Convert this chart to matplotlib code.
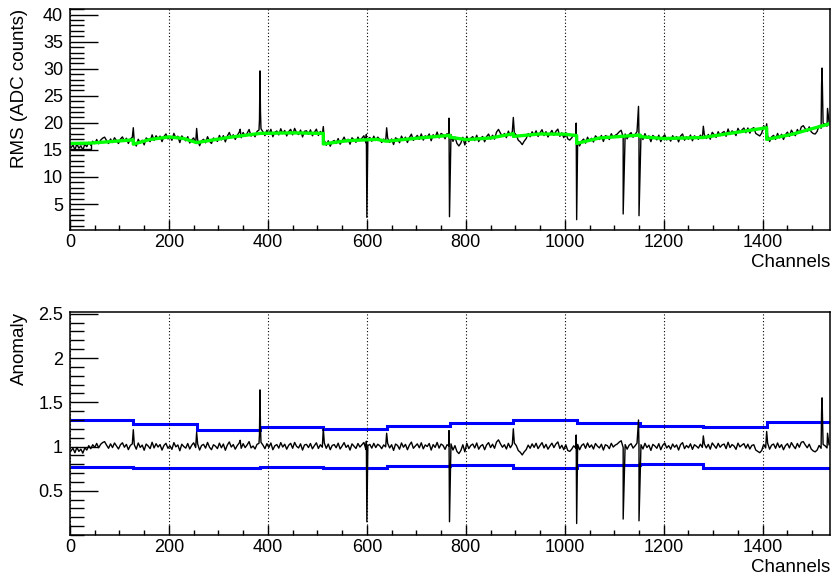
import matplotlib
matplotlib.use('Agg')
import matplotlib.pyplot as plt
from matplotlib.ticker import MultipleLocator, FixedLocator, FuncFormatter
import numpy as np

plt.rcParams['font.family'] = ['Liberation Sans', 'DejaVu Sans']

n_channels = 1536
block_size = 128
step = 4  # anomaly values below are one per 4 channels

# smooth baseline (green), knots per 128-channel block
green_ch = [
    [0, 40, 128],
    [128, 160, 200, 230, 256],
    [256, 320, 384],
    [384, 450, 512],
    [512, 560, 620, 640],
    [640, 700, 768],
    [768, 800, 850, 896],
    [896, 950, 1000, 1024],
    [1024, 1070, 1152],
    [1152, 1200, 1280],
    [1280, 1408],
    [1408, 1460, 1536],
]
green_rms = [
    [16.2, 16.25, 16.85],
    [16.05, 16.9, 17.4, 17.1, 16.35],
    [16.35, 17.3, 18.05],
    [18.05, 18.15, 18.05],
    [16.1, 16.7, 16.95, 16.6],
    [16.6, 17.15, 17.7],
    [17.35, 16.9, 17.2, 18.0],
    [17.5, 17.95, 17.9, 17.65],
    [16.2, 17.2, 17.75],
    [17.45, 17.1, 17.3],
    [17.3, 19.1],
    [16.95, 17.9, 19.85],
]

# anomaly (rms / baseline) minus 1, in thousandths, 32 values per block
anomaly_dev = [
    [-50, -20, -70, -10, -55, -30, -75, -15, -40, 10, -25, 20, -10, 35, -15, 25,
     45, 55, 15, -20, 30, -12, 40, 5, -28, 20, 42, -8, 24, -35, 12, 30],
    [20, -30, 40, -10, 16, -42, 28, 6, -24, 48, -16, 32, -6, 22, -40, 12,
     36, -20, 8, -32, 44, -4, 18, -48, 26, 0, -18, 34, -28, 14, 42, -12],
    [30, -40, 12, 24, -18, 46, -8, -36, 20, 4, -24, 38, -14, 28, -42, 16,
     52, -6, 22, -30, 10, 40, -20, 32, -12, 18, 55, -16, 6, -28, 24, 36],
    [48, 16, -24, 32, -10, 40, -36, 8, 22, -18, 44, -6, 26, -30, 14, 36,
     -20, 46, 2, -16, 30, -40, 18, 24, -12, 34, -26, 10, 42, -22, 20, -8],
    [40, -20, 28, -36, 12, 22, -14, 38, -28, 6, 44, -10, 16, -40, 30, 4,
     -22, 34, -6, 20, 46, -32, 10, 24, -18, 36, -12, 26, 8, -24, 18, -4],
    [36, -16, 20, -44, 28, 12, -30, 40, -8, 24, -36, 16, 50, -20, 6, 30,
     -14, 42, -26, 18, 0, 34, -40, 22, -10, 46, -18, 28, 12, -32, 20, 8],
    [30, -40, 10, -55, -80, -45, 20, -60, 36, -24, 12, 28, -16, 40, -30, 6,
     22, -36, 18, 44, -12, 26, -20, 50, 75, 30, -8, 20, -28, 36, -14, 24],
    [40, 10, -45, -65, -95, -60, -35, 16, -20, 30, -10, 36, -24, 12, 44, -16,
     24, -30, 6, 38, -12, 28, 52, -22, 14, -36, 20, -45, -55, -30, 8, -16],
    [24, -36, 12, 30, -20, 40, -10, 18, -28, 34, 4, -16, 26, -40, 20, 10,
     -24, 36, -6, 16, 28, 50, 65, -12, 22, -30, 14, 32, -18, 8, 38, -22],
    [20, -28, 36, -12, 16, -44, 24, 6, -20, 32, -36, 14, 40, -16, 10, -30,
     28, -8, 18, -40, 22, 44, -24, 12, -14, 30, -32, 20, 4, -18, 26, -10],
    [30, -16, 24, -30, 40, 10, -20, 36, -8, 18, 28, -24, 48, -12, 22, 6,
     -32, 38, -4, 16, 32, -18, 26, -28, 12, 20, -40, -55, -70, -45, 24, -16],
    [36, -30, 16, 28, -20, 40, -12, 22, -36, 10, 32, -16, 44, 6, -24, 34,
     -8, 48, 55, 18, -14, 26, -28, -50, -60, -40, 12, -20, 24, 8, -16, 20],
]

# single-channel outliers
spike_ch = [128, 256, 344, 383, 384, 385, 512, 599, 600, 640, 766, 767,
            896, 1023, 1024, 1118, 1149, 1150, 1280, 1408, 1519, 1520, 1531]
spike_anomaly = [1.19, 1.16, 1.07, 1.14, 1.64, 1.22, 1.20, 1.06, 0.15, 1.15, 1.18, 0.15,
                 1.20, 1.13, 0.13, 0.18, 1.30, 0.16, 1.12, 1.17, 1.40, 1.55, 1.15]

# anomaly thresholds per block (blue)
upper_band = [1.30, 1.25, 1.185, 1.22, 1.20, 1.235, 1.265, 1.295, 1.265, 1.235, 1.215, 1.28]
lower_band = [0.77, 0.755, 0.76, 0.77, 0.755, 0.78, 0.79, 0.755, 0.795, 0.80, 0.76, 0.76]

# low run at the very start of the rms histogram
first_run_ch = [0, 42, 42]
first_run_rms = [15.25, 15.25, 16.2]

# ---- assemble series ----
grid_ch = np.arange(step / 2, n_channels, step)
ch = np.concatenate([grid_ch, spike_ch])
anomaly = np.concatenate([1 + np.concatenate(anomaly_dev) / 1000.0, spike_anomaly])
order = np.argsort(ch, kind='stable')
ch = ch[order]
anomaly = anomaly[order]

baseline = np.empty_like(ch)
for i, c in enumerate(ch):
    b = min(int(c) // block_size, len(green_ch) - 1)
    baseline[i] = np.interp(c, green_ch[b], green_rms[b])
rms = anomaly * baseline

green_x = np.concatenate(green_ch)
green_y = np.concatenate(green_rms)
edges = np.arange(0, n_channels + 1, block_size)

# ---- figure ----
fig = plt.figure(figsize=(8.33, 5.79), dpi=100)
ax1 = fig.add_axes([0.084, 0.6028, 0.9124, 0.3817])
ax2 = fig.add_axes([0.084, 0.076, 0.9124, 0.3851])

ax1.plot(ch, rms, color='black', lw=1.0)
ax1.plot(first_run_ch, first_run_rms, color='black', lw=1.0)
ax1.plot(green_x, green_y, color='#00ff00', lw=2.4)
ax1.set_ylim(0.2, 41.05)
ax1.yaxis.set_major_locator(MultipleLocator(5))
ax1.yaxis.set_minor_locator(MultipleLocator(1))

ax2.plot(ch, anomaly, color='black', lw=1.0)
ax2.stairs(upper_band, edges, color='#0000ff', lw=2.2, baseline=None)
ax2.stairs(lower_band, edges, color='#0000ff', lw=2.2, baseline=None)
ax2.set_ylim(0.0, 2.52)
ax2.yaxis.set_major_locator(FixedLocator([0.5, 1, 1.5, 2, 2.5]))
ax2.yaxis.set_minor_locator(MultipleLocator(0.1))
ax2.yaxis.set_major_formatter(FuncFormatter(lambda v, p: '{:g}'.format(v)))

for ax, ylab in [(ax1, 'RMS (ADC counts)'), (ax2, 'Anomaly')]:
    ax.set_xlim(0, n_channels)
    ax.xaxis.set_major_locator(MultipleLocator(200))
    ax.xaxis.set_minor_locator(MultipleLocator(50))
    ax.grid(axis='x', which='major', color='black', linestyle=(0, (1, 2)), lw=0.8)
    ax.tick_params(which='both', direction='in', top=False, right=False, width=1,
                   labelsize=13)
    ax.tick_params(axis='y', which='major', length=20, pad=5)
    ax.tick_params(axis='y', which='minor', length=10)
    ax.tick_params(axis='x', which='major', length=7, pad=3)
    ax.tick_params(axis='x', which='minor', length=3.5)
    for s in ax.spines.values():
        s.set_linewidth(1.1)
    ax.set_xlabel('Channels', loc='right', fontsize=13.5, labelpad=2)
    ax.set_ylabel(ylab, loc='top', fontsize=13.5)
    ax.yaxis.set_label_coords(-0.055, 1.0)

fig.savefig('out.png', dpi=100)
